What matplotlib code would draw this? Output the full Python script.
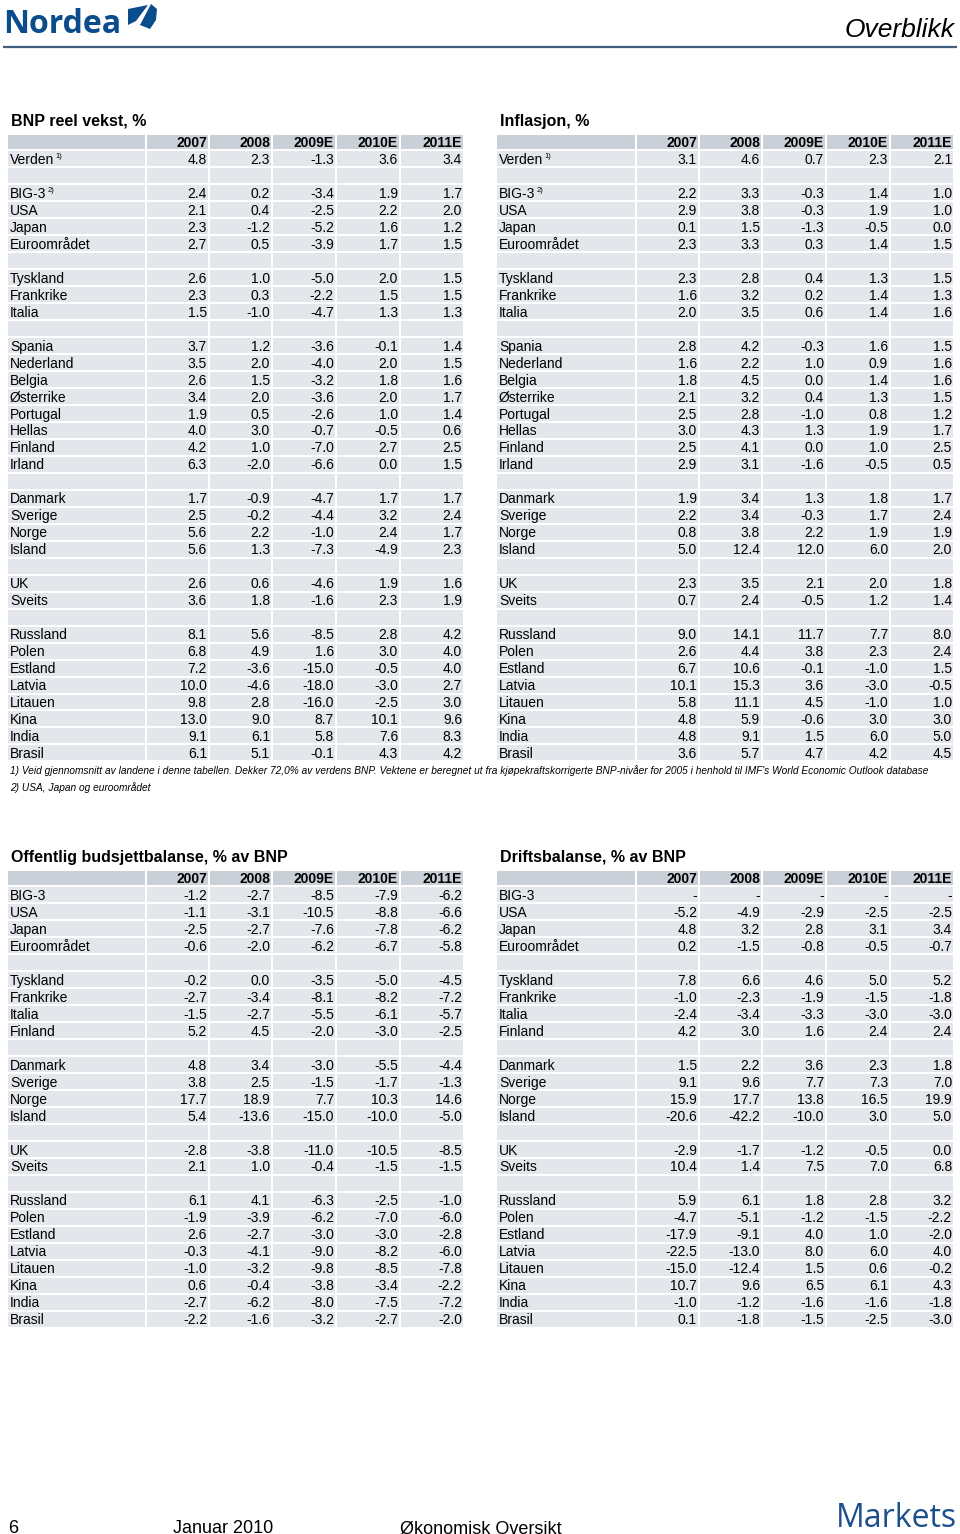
import matplotlib.pyplot as plt
from matplotlib.patches import Rectangle, Polygon

plt.rcParams['font.family'] = ['Liberation Sans', 'DejaVu Sans']

# ---- data -----------------------------------------------------------------
years = ['2007', '2008', '2009E', '2010E', '2011E']

bnp_labels = ['Verden', None,
              'BIG-3', 'USA', 'Japan', 'Euroområdet', None,
              'Tyskland', 'Frankrike', 'Italia', None,
              'Spania', 'Nederland', 'Belgia', 'Østerrike', 'Portugal', 'Hellas', 'Finland', 'Irland', None,
              'Danmark', 'Sverige', 'Norge', 'Island', None,
              'UK', 'Sveits', None,
              'Russland', 'Polen', 'Estland', 'Latvia', 'Litauen', 'Kina', 'India', 'Brasil']
bnp_values = [(4.8, 2.3, -1.3, 3.6, 3.4), None,
              (2.4, 0.2, -3.4, 1.9, 1.7), (2.1, 0.4, -2.5, 2.2, 2.0), (2.3, -1.2, -5.2, 1.6, 1.2),
              (2.7, 0.5, -3.9, 1.7, 1.5), None,
              (2.6, 1.0, -5.0, 2.0, 1.5), (2.3, 0.3, -2.2, 1.5, 1.5), (1.5, -1.0, -4.7, 1.3, 1.3), None,
              (3.7, 1.2, -3.6, -0.1, 1.4), (3.5, 2.0, -4.0, 2.0, 1.5), (2.6, 1.5, -3.2, 1.8, 1.6),
              (3.4, 2.0, -3.6, 2.0, 1.7), (1.9, 0.5, -2.6, 1.0, 1.4), (4.0, 3.0, -0.7, -0.5, 0.6),
              (4.2, 1.0, -7.0, 2.7, 2.5), (6.3, -2.0, -6.6, 0.0, 1.5), None,
              (1.7, -0.9, -4.7, 1.7, 1.7), (2.5, -0.2, -4.4, 3.2, 2.4), (5.6, 2.2, -1.0, 2.4, 1.7),
              (5.6, 1.3, -7.3, -4.9, 2.3), None,
              (2.6, 0.6, -4.6, 1.9, 1.6), (3.6, 1.8, -1.6, 2.3, 1.9), None,
              (8.1, 5.6, -8.5, 2.8, 4.2), (6.8, 4.9, 1.6, 3.0, 4.0), (7.2, -3.6, -15.0, -0.5, 4.0),
              (10.0, -4.6, -18.0, -3.0, 2.7), (9.8, 2.8, -16.0, -2.5, 3.0), (13.0, 9.0, 8.7, 10.1, 9.6),
              (9.1, 6.1, 5.8, 7.6, 8.3), (6.1, 5.1, -0.1, 4.3, 4.2)]

infl_labels = bnp_labels
infl_values = [(3.1, 4.6, 0.7, 2.3, 2.1), None,
               (2.2, 3.3, -0.3, 1.4, 1.0), (2.9, 3.8, -0.3, 1.9, 1.0), (0.1, 1.5, -1.3, -0.5, 0.0),
               (2.3, 3.3, 0.3, 1.4, 1.5), None,
               (2.3, 2.8, 0.4, 1.3, 1.5), (1.6, 3.2, 0.2, 1.4, 1.3), (2.0, 3.5, 0.6, 1.4, 1.6), None,
               (2.8, 4.2, -0.3, 1.6, 1.5), (1.6, 2.2, 1.0, 0.9, 1.6), (1.8, 4.5, 0.0, 1.4, 1.6),
               (2.1, 3.2, 0.4, 1.3, 1.5), (2.5, 2.8, -1.0, 0.8, 1.2), (3.0, 4.3, 1.3, 1.9, 1.7),
               (2.5, 4.1, 0.0, 1.0, 2.5), (2.9, 3.1, -1.6, -0.5, 0.5), None,
               (1.9, 3.4, 1.3, 1.8, 1.7), (2.2, 3.4, -0.3, 1.7, 2.4), (0.8, 3.8, 2.2, 1.9, 1.9),
               (5.0, 12.4, 12.0, 6.0, 2.0), None,
               (2.3, 3.5, 2.1, 2.0, 1.8), (0.7, 2.4, -0.5, 1.2, 1.4), None,
               (9.0, 14.1, 11.7, 7.7, 8.0), (2.6, 4.4, 3.8, 2.3, 2.4), (6.7, 10.6, -0.1, -1.0, 1.5),
               (10.1, 15.3, 3.6, -3.0, -0.5), (5.8, 11.1, 4.5, -1.0, 1.0), (4.8, 5.9, -0.6, 3.0, 3.0),
               (4.8, 9.1, 1.5, 6.0, 5.0), (3.6, 5.7, 4.7, 4.2, 4.5)]

bal_labels = ['BIG-3', 'USA', 'Japan', 'Euroområdet', None,
              'Tyskland', 'Frankrike', 'Italia', 'Finland', None,
              'Danmark', 'Sverige', 'Norge', 'Island', None,
              'UK', 'Sveits', None,
              'Russland', 'Polen', 'Estland', 'Latvia', 'Litauen', 'Kina', 'India', 'Brasil']
budget_values = [(-1.2, -2.7, -8.5, -7.9, -6.2), (-1.1, -3.1, -10.5, -8.8, -6.6),
                 (-2.5, -2.7, -7.6, -7.8, -6.2), (-0.6, -2.0, -6.2, -6.7, -5.8), None,
                 (-0.2, 0.0, -3.5, -5.0, -4.5), (-2.7, -3.4, -8.1, -8.2, -7.2),
                 (-1.5, -2.7, -5.5, -6.1, -5.7), (5.2, 4.5, -2.0, -3.0, -2.5), None,
                 (4.8, 3.4, -3.0, -5.5, -4.4), (3.8, 2.5, -1.5, -1.7, -1.3),
                 (17.7, 18.9, 7.7, 10.3, 14.6), (5.4, -13.6, -15.0, -10.0, -5.0), None,
                 (-2.8, -3.8, -11.0, -10.5, -8.5), (2.1, 1.0, -0.4, -1.5, -1.5), None,
                 (6.1, 4.1, -6.3, -2.5, -1.0), (-1.9, -3.9, -6.2, -7.0, -6.0), (2.6, -2.7, -3.0, -3.0, -2.8),
                 (-0.3, -4.1, -9.0, -8.2, -6.0), (-1.0, -3.2, -9.8, -8.5, -7.8), (0.6, -0.4, -3.8, -3.4, -2.2),
                 (-2.7, -6.2, -8.0, -7.5, -7.2), (-2.2, -1.6, -3.2, -2.7, -2.0)]
current_values = [(None, None, None, None, None), (-5.2, -4.9, -2.9, -2.5, -2.5),
                  (4.8, 3.2, 2.8, 3.1, 3.4), (0.2, -1.5, -0.8, -0.5, -0.7), None,
                  (7.8, 6.6, 4.6, 5.0, 5.2), (-1.0, -2.3, -1.9, -1.5, -1.8),
                  (-2.4, -3.4, -3.3, -3.0, -3.0), (4.2, 3.0, 1.6, 2.4, 2.4), None,
                  (1.5, 2.2, 3.6, 2.3, 1.8), (9.1, 9.6, 7.7, 7.3, 7.0),
                  (15.9, 17.7, 13.8, 16.5, 19.9), (-20.6, -42.2, -10.0, 3.0, 5.0), None,
                  (-2.9, -1.7, -1.2, -0.5, 0.0), (10.4, 1.4, 7.5, 7.0, 6.8), None,
                  (5.9, 6.1, 1.8, 2.8, 3.2), (-4.7, -5.1, -1.2, -1.5, -2.2), (-17.9, -9.1, 4.0, 1.0, -2.0),
                  (-22.5, -13.0, 8.0, 6.0, 4.0), (-15.0, -12.4, 1.5, 0.6, -0.2), (10.7, 9.6, 6.5, 6.1, 4.3),
                  (-1.0, -1.2, -1.6, -1.6, -1.8), (0.1, -1.8, -1.5, -2.5, -3.0)]

notes = {'Verden': '1)', 'BIG-3': '2)'}
footnote1 = ("1) Veid gjennomsnitt av landene i denne tabellen. Dekker 72,0% av verdens BNP. "
             "Vektene er beregnet ut fra kjøpekraftskorrigerte BNP-nivåer for 2005 i henhold til "
             "IMF's World Economic Outlook database")
footnote2 = "2) USA, Japan og euroområdet"

# ---- layout ---------------------------------------------------------------
CELL = '#e3e6eb'
HEAD = '#c9d0d8'
BLUE = '#0b4c8c'
ROW_H = 16.97
LEFT_X = [7, 146, 209, 272, 336, 400, 464]
RIGHT_X = [496, 636, 699, 762, 826, 890, 954]


def fmt(v):
    return '-' if v is None else '%.1f' % v


def draw_table(ax, xs, top, title, labels, values, sup=None):
    ax.text(xs[0] + 4, top - 7.5, title, fontsize=11.5, fontweight='bold', va='baseline')
    for r in range(len(labels) + 1):
        y0 = top + r * ROW_H
        for c in range(6):
            ax.add_patch(Rectangle((xs[c] + 1, y0 + 1), xs[c + 1] - xs[c] - 2, ROW_H - 2,
                                   facecolor=HEAD if r == 0 else CELL, lw=0))
        base = y0 + ROW_H / 2 + 5
        if r == 0:
            for c, yr in enumerate(years):
                ax.text(xs[c + 2] - 2, base, yr, fontsize=10, fontweight='bold',
                        ha='right', va='baseline')
            continue
        lab = labels[r - 1]
        if lab is None:
            continue
        t = ax.text(xs[0] + 3, base, lab, fontsize=10, va='baseline')
        if sup and lab in sup:
            ax.annotate(sup[lab], xy=(1, 1), xycoords=t, xytext=(0.8, 0),
                        textcoords='offset points', fontsize=5.5, va='top')
        for c, v in enumerate(values[r - 1]):
            ax.text(xs[c + 2] - 2, base, fmt(v), fontsize=10, ha='right', va='baseline')


fig = plt.figure(figsize=(9.6, 15.34), dpi=100)
ax = fig.add_axes([0, 0, 1, 1])
ax.set_xlim(0, 960)
ax.set_ylim(1534, 0)
ax.axis('off')

# page header
ax.text(3, 33, 'Nordea', fontsize=23, fontweight='bold', color=BLUE,
        family=['Open Sans', 'Liberation Sans'], va='baseline')
ax.add_patch(Polygon([(128, 9), (148, 5), (136, 21), (128, 25)], closed=True, color=BLUE, lw=0))
ax.add_patch(Polygon([(151, 4), (157, 9), (156, 20), (150, 29), (140, 25)], closed=True,
                     color=BLUE, lw=0))
ax.plot([3, 957], [46.5, 46.5], color='#3f5f7d', lw=1.6, solid_capstyle='butt')
ax.text(955, 37, 'Overblikk', fontsize=19, style='italic', ha='right', va='baseline')

# tables
draw_table(ax, LEFT_X, 133.5, 'BNP reel vekst, %', bnp_labels, bnp_values, notes)
draw_table(ax, RIGHT_X, 133.5, 'Inflasjon, %', infl_labels, infl_values, notes)
draw_table(ax, LEFT_X, 869.5, 'Offentlig budsjettbalanse, % av BNP', bal_labels, budget_values)
draw_table(ax, RIGHT_X, 869.5, 'Driftsbalanse, % av BNP', bal_labels, current_values)

ax.text(10, 774, footnote1, fontsize=7.3, style='italic', va='baseline')
ax.text(10, 791, footnote2, fontsize=7.3, style='italic', va='baseline')

# footer
ax.text(8, 1533, '6', fontsize=13, va='baseline')
ax.text(173, 1533, 'Januar 2010', fontsize=13, va='baseline')
ax.text(400, 1533, 'Økonomisk Oversikt', fontsize=13, va='baseline')
ax.text(957, 1527, 'Markets', fontsize=23, color='#1d4f8a', ha='right',
        family=['Open Sans', 'Liberation Sans'], va='baseline')

fig.savefig('out.png', dpi=100)
